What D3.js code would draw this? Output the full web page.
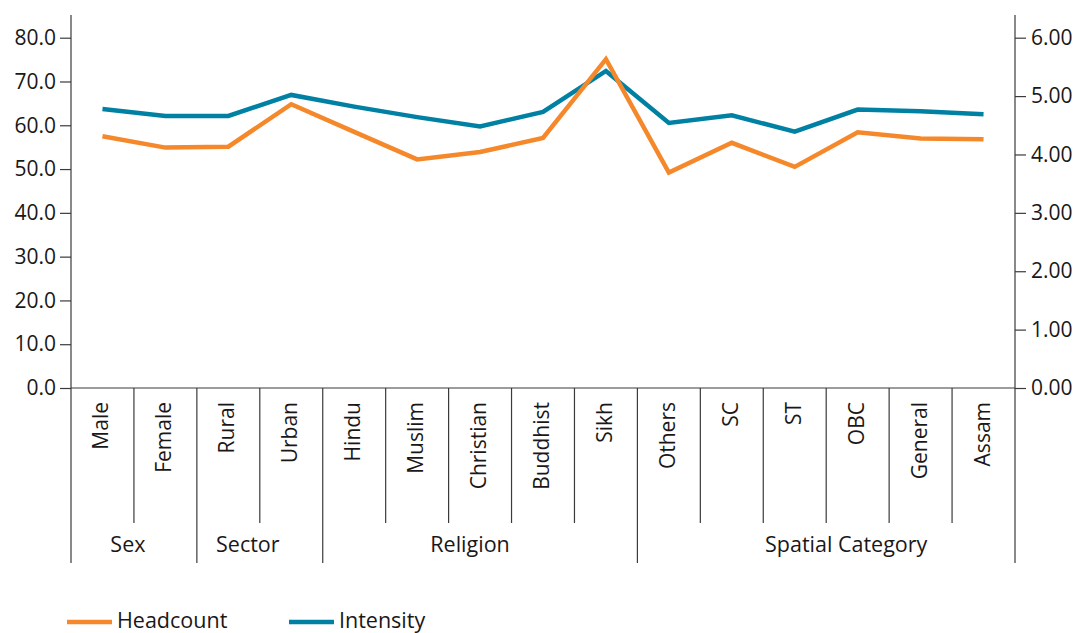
<!DOCTYPE html>
<html>
<head>
<meta charset="utf-8">
<script src="https://cdn.jsdelivr.net/npm/d3@7"></script>
<style>
  html, body { margin: 0; padding: 0; background: #fff; }
  svg { display: block; font-family: "Open Sans", "Noto Sans", sans-serif; }
  text { fill: #1a1718; }
</style>
</head>
<body>
<svg id="chart" width="1079" height="633"></svg>
<script>
// Categories along the x axis and the group each one belongs to
const categories = ["Male", "Female", "Rural", "Urban", "Hindu", "Muslim", "Christian", "Buddhist", "Sikh",
                    "Others", "SC", "ST", "OBC", "General", "Assam"];
const groups = [
  { name: "Sex", from: "Male", to: "Female" },
  { name: "Sector", from: "Rural", to: "Urban" },
  { name: "Religion", from: "Hindu", to: "Sikh" },
  { name: "Spatial Category", from: "Others", to: "Assam" }
];

// Headcount ratio (left axis) and intensity (right axis)
const headcount = [57.5, 54.9, 55.1, 64.8, 58.5, 52.2, 53.9, 57.1, 75.1, 49.2, 56.0, 50.5, 58.4, 57.0, 56.8];
const intensity = [4.78, 4.66, 4.66, 5.02, 4.82, 4.64, 4.48, 4.73, 5.43, 4.54, 4.67, 4.39, 4.77, 4.74, 4.69];

const leftTicks = [0, 10, 20, 30, 40, 50, 60, 70, 80];
const rightTicks = [0, 1, 2, 3, 4, 5, 6];

const colors = { headcount: "#f5882a", intensity: "#0081a3" };
const axisColor = "#3a3a3a";

const svg = d3.select("#chart");
const plotLeft = 71, plotRight = 1015, plotTop = 15, base = 388;

const x = d3.scaleBand().domain(categories).range([plotLeft, plotRight]).padding(0);
const yL = d3.scaleLinear().domain([0, 80]).range([base, 37.7]);
const yR = d3.scaleLinear().domain([0, 6]).range([base, 37.7]);

// Left axis
const gL = svg.append("g").attr("transform", `translate(${plotLeft},0)`)
  .call(d3.axisLeft(yL).tickValues(leftTicks).tickSize(11).tickPadding(4).tickFormat(d3.format(".1f")));
// Right axis
const gR = svg.append("g").attr("transform", `translate(${plotRight},0)`)
  .call(d3.axisRight(yR).tickValues(rightTicks).tickSize(11).tickPadding(5).tickFormat(d3.format(".2f")));

[gL, gR].forEach(g => {
  g.select(".domain").remove();
  g.selectAll(".tick line").attr("stroke", axisColor).attr("stroke-width", 1.2);
  g.selectAll(".tick text").attr("font-size", 21).attr("fill", "#1a1718")
    .attr("font-family", "'Open Sans', sans-serif");
});

// Vertical axis lines extending down through the category area
svg.append("line").attr("x1", plotLeft).attr("x2", plotLeft).attr("y1", plotTop).attr("y2", 563)
  .attr("stroke", axisColor).attr("stroke-width", 1.2);
svg.append("line").attr("x1", plotRight).attr("x2", plotRight).attr("y1", plotTop).attr("y2", 563)
  .attr("stroke", axisColor).attr("stroke-width", 1.2);
// Baseline
svg.append("line").attr("x1", plotLeft).attr("x2", plotRight).attr("y1", base).attr("y2", base)
  .attr("stroke", axisColor).attr("stroke-width", 1.2);

// Dividers between categories: long at group boundaries, short elsewhere
const groupStarts = new Set(groups.map(g => g.from));
categories.forEach((c, i) => {
  if (i === 0) return;
  const xx = x(c);
  svg.append("line").attr("x1", xx).attr("x2", xx).attr("y1", base)
    .attr("y2", groupStarts.has(c) ? 563 : 523)
    .attr("stroke", axisColor).attr("stroke-width", 1.2);
});

// Rotated category labels
svg.append("g").selectAll("text").data(categories).join("text")
  .attr("transform", d => `translate(${x(d) + x.bandwidth() / 2 + 6},402) rotate(-90)`)
  .attr("text-anchor", "end")
  .attr("font-size", 21)
  .text(d => d);

// Group labels, nudged slightly from the centre of their span
const groupLabelShift = { "Sex": -6, "Sector": -12, "Religion": -10, "Spatial Category": 20 };
svg.append("g").selectAll("text").data(groups).join("text")
  .attr("x", g => (x(g.from) + x(g.to) + x.bandwidth()) / 2 + groupLabelShift[g.name])
  .attr("y", 552)
  .attr("text-anchor", "middle")
  .attr("font-size", 21.5)
  .text(g => g.name);

// Lines
const cx = (d, i) => x(categories[i]) + x.bandwidth() / 2;
const lineL = d3.line().x(cx).y(d => yL(d));
const lineR = d3.line().x(cx).y(d => yR(d));

svg.append("path").datum(intensity).attr("d", lineR)
  .attr("fill", "none").attr("stroke", colors.intensity).attr("stroke-width", 4.5)
  .attr("stroke-linejoin", "miter");
svg.append("path").datum(headcount).attr("d", lineL)
  .attr("fill", "none").attr("stroke", colors.headcount).attr("stroke-width", 4.5)
  .attr("stroke-linejoin", "miter");

// Legend
const legend = [
  { label: "Headcount", color: colors.headcount, x: 67 },
  { label: "Intensity", color: colors.intensity, x: 289 }
];
const lg = svg.append("g").selectAll("g").data(legend).join("g")
  .attr("transform", d => `translate(${d.x},622)`);
lg.append("line").attr("x1", 0).attr("x2", 45).attr("y1", 0).attr("y2", 0)
  .attr("stroke", d => d.color).attr("stroke-width", 4.5);
lg.append("text").attr("x", 50).attr("y", 6).attr("font-size", 21.5).text(d => d.label);
</script>
</body>
</html>
